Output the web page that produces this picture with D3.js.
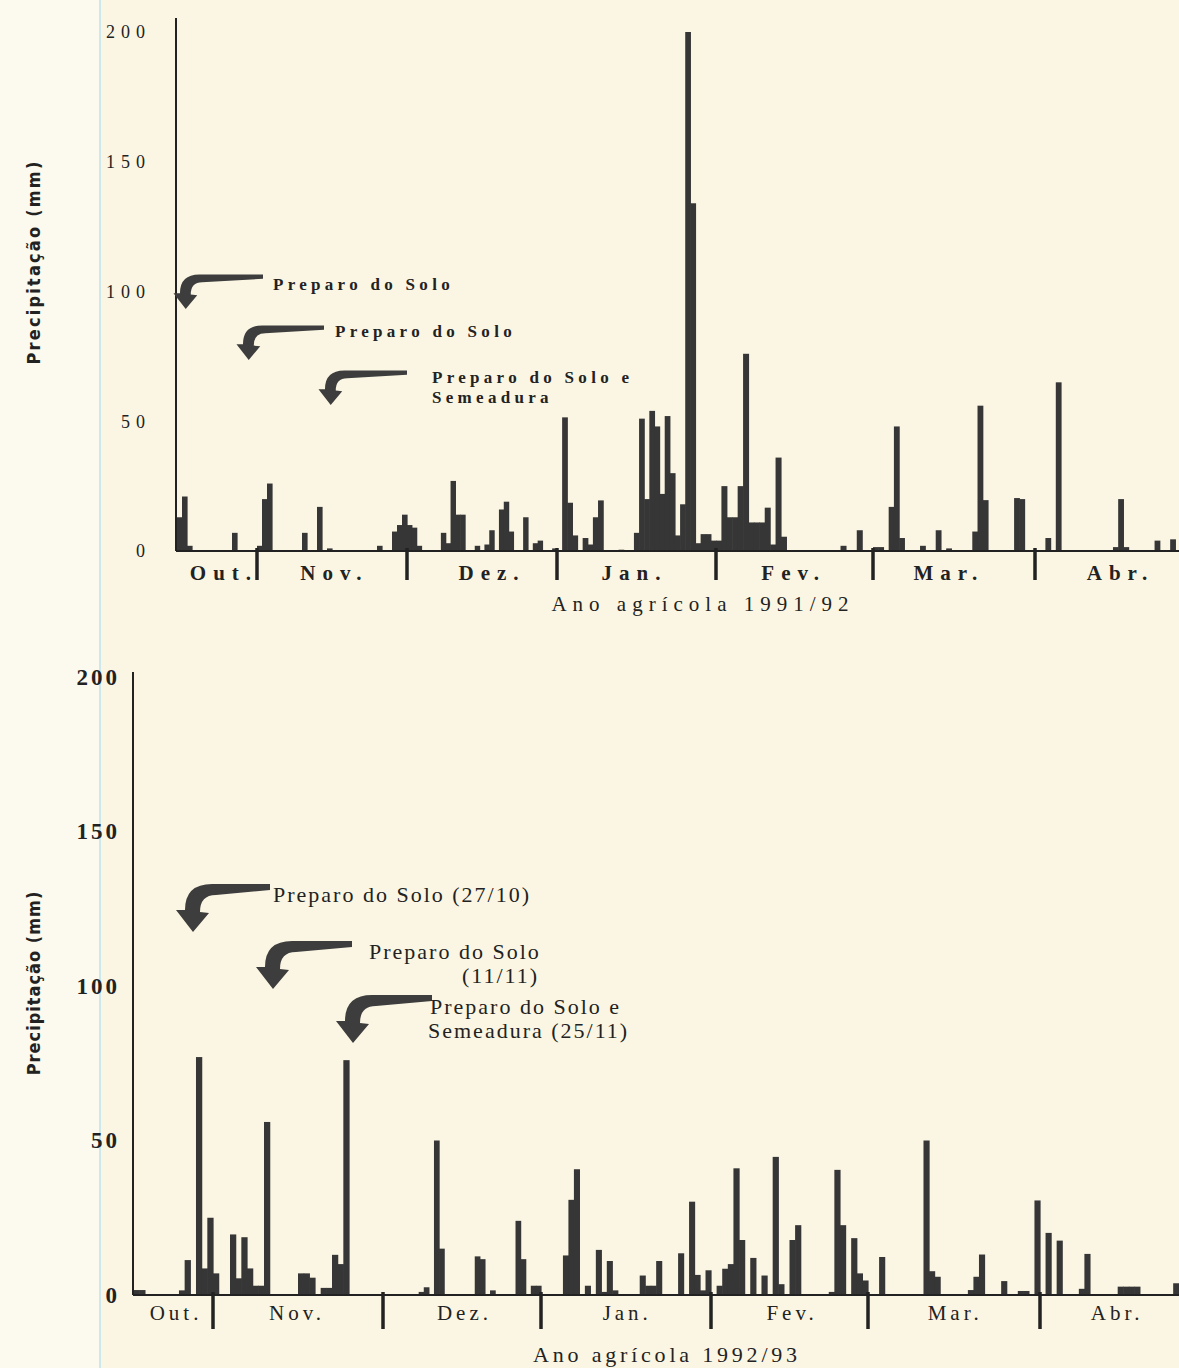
<!DOCTYPE html>
<html><head><meta charset="utf-8">
<script src="https://cdn.jsdelivr.net/npm/d3@7"></script>
<style>
html,body{margin:0;padding:0;background:#fbf6e3;}
svg{display:block;}
</style></head><body>
<svg id="chart" width="1179" height="1368"></svg>
<script>
// ---------------- DATA ----------------
const meses = ["Out.", "Nov.", "Dez.", "Jan.", "Fev.", "Mar.", "Abr."];
// first day of each month, counted in days since 1 October
const inicioMes9192 = [0, 31, 61, 92, 123, 152, 183];
const inicioMes9293 = [0, 31, 61, 92, 123, 151, 182];
const yTicks = [0, 50, 100, 150, 200];
const titulo9192 = "Ano agrícola 1991/92";
const titulo9293 = "Ano agrícola 1992/93";
const yTitulo = "Precipitação (mm)";

// daily rainfall 1991/92 : [day since 1 Oct, mm]
const chuva9192 = [
  [15,13],[16,21],[17,2],[26,7],
  [31,2],[32,20],[33,26],[40,7],[43,17],[45,1],[55,2],[58,7.5],[59,10],[60,14],
  [61,10],[62,9],[63,2],[68,7],[69,3],[70,27],[71,14],[72,14],[75,2],[77,2.5],[78,8],
  [80,16],[81,19],[82,7.5],[85,13],[87,3],[88,4],[91,1],
  [93,51.5],[94,18.6],[95,6],[97,5],[98,2.5],[99,13],[100,19.5],[104,0.5],
  [107,7],[108,51],[109,20],[110,54],[111,48],[112,22],[113,52],[114,30],[115,6],
  [116,18],[117,200],[118,134],[119,3],[120,6.5],[121,6.5],[122,4],
  [123,4],[124,25],[125,13],[126,13],[127,25],[128,76],[129,11],[130,11],[131,11],
  [132,16.7],[133,2.5],[134,36],[135,5.5],[146,2],[149,8],
  [152,1.5],[153,1.5],[155,17],[156,48],[157,5],[161,2],[164,8],[166,1],
  [171,7.5],[172,56],[173,19.6],[179,20.4],[180,20],
  [185,5],[187,65],[198,1.5],[199,20],[200,1.5],[206,4],[209,4.5]
];

// daily rainfall 1992/93 : [day since 1 Oct, mm]
const chuva9293 = [
  [17,1.6],[18,1.6],[25,1.5],[26,11.3],[28,77],[29,8.6],[30,25],
  [31,7],[34,19.6],[35,5.4],[36,18.7],[37,8.6],[38,3],[39,3],[40,56],[46,7],[47,7],
  [48,5.6],[50,2.3],[51,2.3],[52,13],[53,10],[54,76],
  [68,1],[69,2.5],[71,50],[72,15],[79,12.5],[80,11.6],[82,1.5],[87,24],[88,11.6],[90,3],[91,3],
  [96,12.8],[97,30.8],[98,40.7],[100,3],[102,14.6],[103,1],[104,11],[105,1.5],
  [110,6.3],[111,3],[112,3],[113,11],[117,13.5],[119,30.2],[120,6.5],[121,1.5],[122,8],
  [124,3],[125,8.5],[126,10],[127,41],[128,17.8],[130,12],[132,6.3],[134,44.7],[135,3.5],
  [137,17.8],[138,22.6],[144,1],[145,40.5],[146,22.6],[148,18.4],[149,7],[150,4.7],
  [153,12.3],[161,50],[162,7.7],[163,5.9],[169,1.6],[170,5.9],[171,13.1],[175,4.5],[178,1.3],[179,1.3],
  [181,30.6],[183,20.1],[185,17.6],[189,2],[190,13.3],[196,2.7],[197,2.7],[198,2.7],[199,2.7],[206,3.8]
];

const notas9192 = [["Preparo do Solo"], ["Preparo do Solo"], ["Preparo do Solo e", "Semeadura"]];
const notas9293 = [["Preparo do Solo (27/10)"], ["Preparo do Solo", "(11/11)"], ["Preparo do Solo e", "Semeadura (25/11)"]];

// ---------------- DRAWING ----------------
const svg = d3.select("#chart");
const W = 1179, H = 1368;
const INK = "#363636";

svg.append("rect").attr("width", W).attr("height", H).attr("fill", "#fbf6e3");
svg.append("rect").attr("width", 100).attr("height", H).attr("fill", "#fcfaee");
svg.append("line").attr("x1", 100).attr("x2", 100).attr("y1", 0).attr("y2", H)
  .attr("stroke", "#bfe2ee").attr("stroke-width", 1.5);

// curved "swoosh" arrow, shape defined relative to its tip
function swoosh(g, tx, ty, right, s) {
  const P = (dx, dy) => `${tx + dx * s},${ty + dy * s}`;
  const d = `M${right},${ty - 48 * s} L${P(20, -48)} Q${P(-7, -48)} ${P(-7, -22)} ` +
            `L${P(-16, -22)} L${P(1, 0)} L${P(17, -19)} L${P(8, -20)} ` +
            `Q${P(8, -37)} ${P(24, -37)} L${right},${ty - 42 * s} Z`;
  g.append("path").attr("d", d).attr("fill", "#3d3d3d");
}

function panel(cfg) {
  const g = svg.append("g");
  const dom = [cfg.start, ...cfg.inicio.slice(1), cfg.end];
  const x = d3.scaleLinear().domain(dom).range(cfg.xr);
  const y = d3.scaleLinear().domain([0, 200]).range(cfg.yr);
  const x0 = cfg.xr[0], y0 = y(0);

  // bars
  g.append("g").selectAll("rect").data(cfg.data).join("rect")
    .attr("x", d => x(d[0]))
    .attr("width", d => x(d[0] + 1) - x(d[0]) + 0.6)
    .attr("y", d => y(d[1]))
    .attr("height", d => y0 - y(d[1]))
    .attr("fill", INK);

  // y axis
  const ax = g.append("g").attr("transform", `translate(${x0},0)`)
    .call(d3.axisLeft(y).tickValues(yTicks).tickSize(0).tickPadding(cfg.tickPad));
  ax.select(".domain").remove();
  ax.selectAll("text")
    .attr("font-family", "'Liberation Serif', serif")
    .attr("font-size", cfg.tickFont)
    .attr("font-weight", cfg.tickWeight)
    .attr("letter-spacing", cfg.tickSpacing)
    .attr("fill", "#222");
  g.append("line").attr("x1", x0).attr("x2", x0).attr("y1", cfg.axisTop).attr("y2", y0)
    .attr("stroke", "#222").attr("stroke-width", 2);

  // x baseline
  g.append("line").attr("x1", x0).attr("x2", W).attr("y1", y0).attr("y2", y0)
    .attr("stroke", "#222").attr("stroke-width", 2.2);

  // month separators
  g.selectAll(".sep").data(cfg.inicio.slice(1)).join("line")
    .attr("x1", d => x(d)).attr("x2", d => x(d))
    .attr("y1", y0 - 3).attr("y2", y0 + cfg.sepLen)
    .attr("stroke", "#222").attr("stroke-width", 3.5);

  // month labels
  const cx = meses.map((m, i) => i === 0 ? (x(cfg.start) + x(cfg.inicio[1])) / 2 : x(cfg.inicio[i] + 15));
  g.selectAll(".mes").data(meses).join("text")
    .attr("x", (d, i) => cx[i] + cfg.monthShift[i] + cfg.monthSpacing / 2)
    .attr("y", y0 + cfg.monthDy)
    .attr("text-anchor", "middle")
    .attr("font-family", "'Liberation Serif', serif")
    .attr("font-size", cfg.monthFont)
    .attr("font-weight", cfg.monthWeight)
    .attr("letter-spacing", cfg.monthSpacing)
    .attr("fill", "#222")
    .text(d => d);

  // x title
  g.append("text").attr("x", cfg.titleX).attr("y", cfg.titleY)
    .attr("text-anchor", "middle")
    .attr("font-family", "'Liberation Serif', serif")
    .attr("font-size", cfg.titleFont)
    .attr("letter-spacing", cfg.titleSpacing)
    .attr("fill", "#222")
    .text(cfg.title);

  // y title
  g.append("text")
    .attr("transform", `translate(${cfg.yTitleX},${cfg.yTitleY}) rotate(-90)`)
    .attr("text-anchor", "middle")
    .attr("font-family", "'DejaVu Sans Condensed', 'Liberation Sans Narrow', sans-serif")
    .attr("font-stretch", "condensed")
    .attr("font-weight", "bold")
    .attr("font-size", cfg.yTitleFont)
    .attr("letter-spacing", cfg.yTitleSpacing)
    .attr("fill", "#222")
    .text(yTitulo);

  // annotations with curved arrows
  cfg.notes.forEach((lines, i) => {
    const a = cfg.arrows[i];
    swoosh(g, a.tipX, a.tipY, a.right, cfg.arrowScale);
    lines.forEach((t, j) => {
      g.append("text")
        .attr("x", a.tx[j]).attr("y", a.ty + j * cfg.noteLine)
        .attr("font-family", "'Liberation Serif', serif")
        .attr("font-size", cfg.noteFont)
        .attr("font-weight", cfg.noteWeight)
        .attr("letter-spacing", cfg.noteSpacing)
        .attr("fill", "#222")
        .text(t);
    });
  });
}

panel({
  data: chuva9192, inicio: inicioMes9192, start: 14.8, end: 210.7,
  xr: [176, 257, 407, 557, 716, 873, 1035, 1179], yr: [551, 32], axisTop: 18,
  tickPad: 25, tickFont: 18, tickWeight: "normal", tickSpacing: 6,
  sepLen: 29, monthDy: 29, monthFont: 21, monthWeight: "bold", monthSpacing: 7,
  monthShift: [4, -1, 9, -3, -7, -6, 4],
  title: titulo9192, titleX: 703, titleY: 611, titleFont: 21, titleSpacing: 6,
  yTitleX: 40, yTitleY: 262, yTitleFont: 18, yTitleSpacing: 2.2,
  notes: notas9192, noteFont: 17, noteWeight: "bold", noteSpacing: 4.3, noteLine: 20,
  arrowScale: 0.72,
  arrows: [
    {tipX: 185, tipY: 309, right: 263, tx: [273], ty: 290},
    {tipX: 248, tipY: 360, right: 324, tx: [335], ty: 337},
    {tipX: 330, tipY: 405, right: 407, tx: [432, 432], ty: 383}
  ]
});

panel({
  data: chuva9293, inicio: inicioMes9293, start: 16.9, end: 207.05,
  xr: [133, 213, 383, 541, 711, 868, 1040, 1179], yr: [1295, 677], axisTop: 672,
  tickPad: 13, tickFont: 23, tickWeight: "bold", tickSpacing: 3,
  sepLen: 34, monthDy: 25, monthFont: 21, monthWeight: "normal", monthSpacing: 4,
  monthShift: [1, -3, 3, 2, -5, 2, -8],
  title: titulo9293, titleX: 667, titleY: 1362, titleFont: 22, titleSpacing: 3.8,
  yTitleX: 40, yTitleY: 983, yTitleFont: 18, yTitleSpacing: 1,
  notes: notas9293, noteFont: 22, noteWeight: "normal", noteSpacing: 2, noteLine: 24,
  arrowScale: 1,
  arrows: [
    {tipX: 192, tipY: 932, right: 270, tx: [273], ty: 902},
    {tipX: 272, tipY: 989, right: 352, tx: [369, 462], ty: 959},
    {tipX: 352, tipY: 1043, right: 432, tx: [430, 428], ty: 1014}
  ]
});
</script>
</body></html>
